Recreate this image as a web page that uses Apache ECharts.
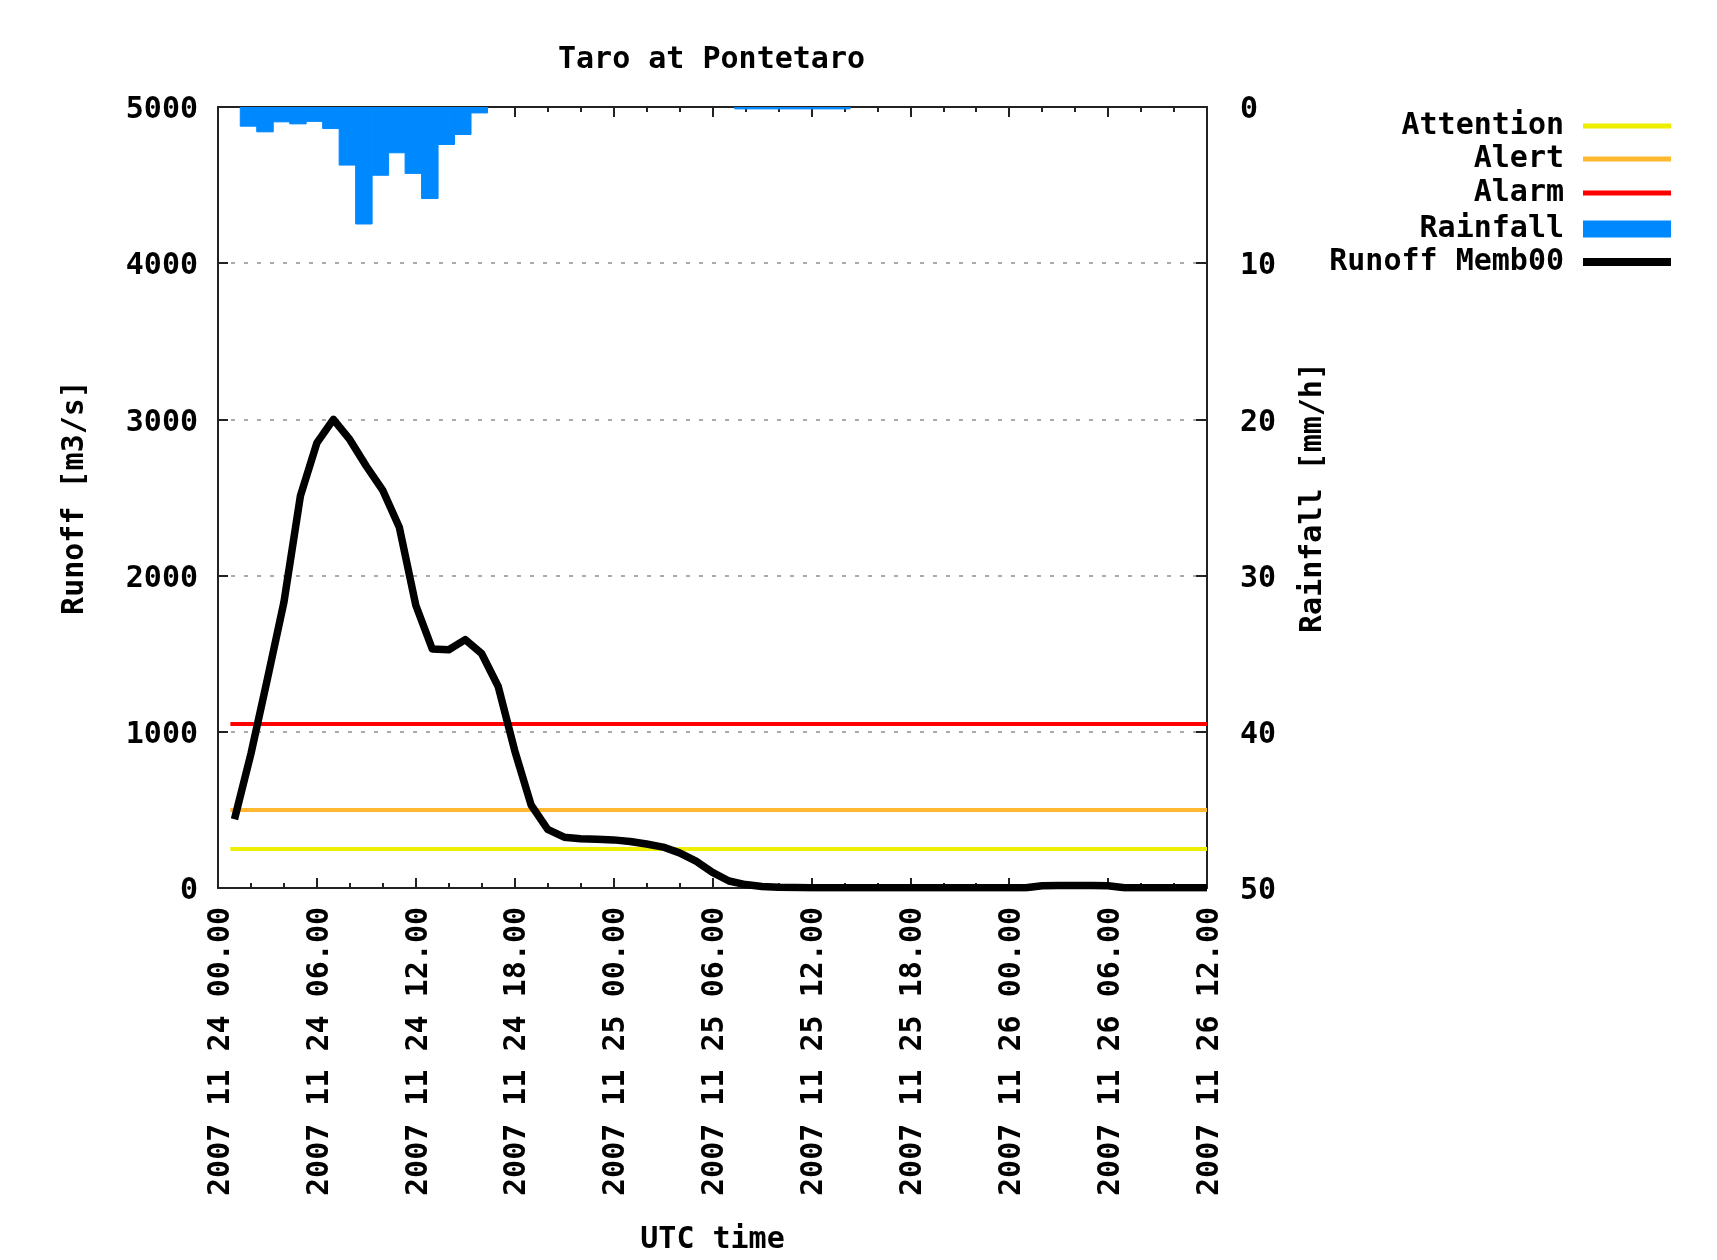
<!DOCTYPE html>
<html><head><meta charset="utf-8">
<script src="https://cdn.jsdelivr.net/npm/echarts@6/dist/echarts.min.js"></script>
<style>html,body{margin:0;padding:0;background:#fff}#c{width:1717px;height:1260px}</style>
</head><body><div id="c"></div>
<script>
const chartTitle = 'Taro at Pontetaro';
const xAxisName = 'UTC time';
const yLeftName = 'Runoff [m3/s]';
const yRightName = 'Rainfall [mm/h]';
// x tick labels every 6 hours starting 2007-11-24 00:00
const xTickLabels = [
  '2007 11 24 00.00','2007 11 24 06.00','2007 11 24 12.00','2007 11 24 18.00',
  '2007 11 25 00.00','2007 11 25 06.00','2007 11 25 12.00','2007 11 25 18.00',
  '2007 11 26 00.00','2007 11 26 06.00','2007 11 26 12.00'
];
// runoff (hours since 2007-11-24 00:00)
const runoffHours = [1,2,3,4,5,6,7,8,9,10,11,12,13,14,15,16,17,18,19,20,
  21,22,23,24,25,26,27,28,29,30,31,32,33,34,35,36,37,38,39,40,
  41,42,43,44,45,46,47,48,49,50,51,52,53,54,55,56,57,58,59,60];
const runoffValues = [440,860,1340,1830,2510,2850,3000,2870,2700,2545,2310,1810,1530,1525,1590,1500,1290,880,530,375,
  325,315,312,308,298,282,262,225,172,100,45,22,10,5,3,2,2,2,2,2,
  2,2,2,2,2,2,2,2,2,15,16,16,16,14,2,2,2,2,2,2];
// rainfall: start hour of each hourly bin, and intensity (mm/h)
const rainStartHours = [1.35,2.35,3.35,4.35,5.35,6.35,7.35,8.35,9.35,10.35,11.35,12.35,13.35,14.35,15.35,
  31.35,32.35,33.35,34.35,35.35,36.35,37.35];
const rainValues = [1.23,1.59,0.95,1.08,0.92,1.38,3.72,7.49,4.37,2.93,4.25,5.86,2.40,1.76,0.38,
  0.12,0.12,0.12,0.12,0.12,0.12,0.12];
const rainBinHours = 1;
// thresholds
const thresholdNames = ['Attention','Alert','Alarm'];
const thresholdValues = [250, 500, 1050];
const thresholdSpan = [0.75, 60];
const runoffName = 'Runoff Memb00';
const rainName = 'Rainfall';

const FONT = 'DejaVu Sans Mono';
const txt = {fontFamily: FONT, fontSize: 30, fontWeight: 'bold', color: '#000'};
const thresholdColors = ['#eeee00', '#ffb830', '#ff0000'];
const rainColor = '#0088ff';
const axisColor = '#222';

const chart = echarts.init(document.getElementById('c'), null, {renderer: 'canvas'});

const series = [];
thresholdNames.forEach((n, i) => {
  series.push({
    name: n, type: 'line', xAxisIndex: 0, yAxisIndex: 0,
    data: [[thresholdSpan[0], thresholdValues[i]], [thresholdSpan[1], thresholdValues[i]]],
    showSymbol: false, symbol: 'none', silent: true, z: 3,
    color: thresholdColors[i],
    lineStyle: {color: thresholdColors[i], width: 4}
  });
});
series.push({
  name: rainName, type: 'custom', xAxisIndex: 0, yAxisIndex: 1, z: 2,
  color: rainColor, itemStyle: {color: rainColor},
  encode: {x: [0, 1], y: 2},
  data: rainStartHours.map((h, i) => [h, h + rainBinHours, rainValues[i]]),
  renderItem: function (params, api) {
    const p0 = api.coord([api.value(0), 0]);
    const p1 = api.coord([api.value(1), api.value(2)]);
    return {type: 'rect', shape: {x: p0[0], y: p0[1], width: p1[0] - p0[0], height: p1[1] - p0[1]},
      style: {fill: rainColor, stroke: rainColor, lineWidth: 1}};
  },
  clip: true
});
series.push({
  name: runoffName, type: 'line', xAxisIndex: 0, yAxisIndex: 0, z: 5,
  data: runoffHours.map((h, i) => [h, runoffValues[i]]),
  showSymbol: false, symbol: 'none', color: '#000',
  lineStyle: {color: '#000', width: 7.5, join: 'round'}
});

const legendNames = [thresholdNames[0], thresholdNames[1], thresholdNames[2], rainName, runoffName];
const legendHeights = [5, 5, 5, 17, 8];
const legendTops = [111, 144, 178, 214, 247];
const legends = legendNames.map((n, i) => ({
  data: [{name: n, icon: 'rect'}], orient: 'vertical', align: 'right',
  right: 46, top: legendTops[i], itemWidth: 88, itemHeight: legendHeights[i],
  padding: 0, selectedMode: false,
  textStyle: Object.assign({}, txt, {padding: [0, 14, 0, 0]})
}));

const xBase = {
  type: 'value', min: 0, max: 60, interval: 6,
  axisLine: {show: true, onZero: false, lineStyle: {color: axisColor, width: 2}},
  axisTick: {show: true, inside: true, length: 10, lineStyle: {color: axisColor, width: 2}},
  minorTick: {show: true, splitNumber: 3, length: 5, lineStyle: {color: axisColor, width: 2}},
  splitLine: {show: false}
};

chart.setOption({
  animation: false,
  backgroundColor: '#fff',
  title: {text: chartTitle, left: 558, top: 45, padding: 0, textStyle: txt},
  legend: legends,
  grid: {left: 218, right: 510, top: 107, bottom: 367, containLabel: false},
  xAxis: [
    Object.assign({}, xBase, {
      position: 'bottom',
      axisLabel: Object.assign({}, txt, {rotate: 90, margin: 19, verticalAlign: 'top', lineHeight: 6,
        formatter: v => xTickLabels[Math.round(v / 6)]}),
      name: xAxisName, nameLocation: 'middle', nameGap: 337, nameTextStyle: txt
    }),
    Object.assign({}, xBase, {position: 'top', axisLabel: {show: false}})
  ],
  yAxis: [
    {
      type: 'value', min: 0, max: 5000, interval: 1000, position: 'left',
      axisLine: {show: true, onZero: false, lineStyle: {color: axisColor, width: 2}},
      axisTick: {show: true, inside: true, length: 10, lineStyle: {color: axisColor, width: 2}},
      axisLabel: Object.assign({}, txt, {margin: 20, verticalAlign: 'top', lineHeight: 7, formatter: v => String(v)}),
      splitLine: {show: true, lineStyle: {color: '#aaaaaa', width: 2, type: [4, 9]}},
      name: yLeftName, nameLocation: 'middle', nameGap: 128, nameRotate: 90, nameTextStyle: txt
    },
    {
      type: 'value', min: 0, max: 50, interval: 10, inverse: true, position: 'right',
      axisLine: {show: true, onZero: false, lineStyle: {color: axisColor, width: 2}},
      axisTick: {show: true, inside: true, length: 11, lineStyle: {color: axisColor, width: 2}},
      axisLabel: Object.assign({}, txt, {margin: 33, verticalAlign: 'top', lineHeight: 7, formatter: v => String(v)}),
      splitLine: {show: false},
      name: yRightName, nameLocation: 'middle', nameGap: 91, nameRotate: 90, nameTextStyle: txt
    }
  ],
  series: series
});
</script>
</body></html>
